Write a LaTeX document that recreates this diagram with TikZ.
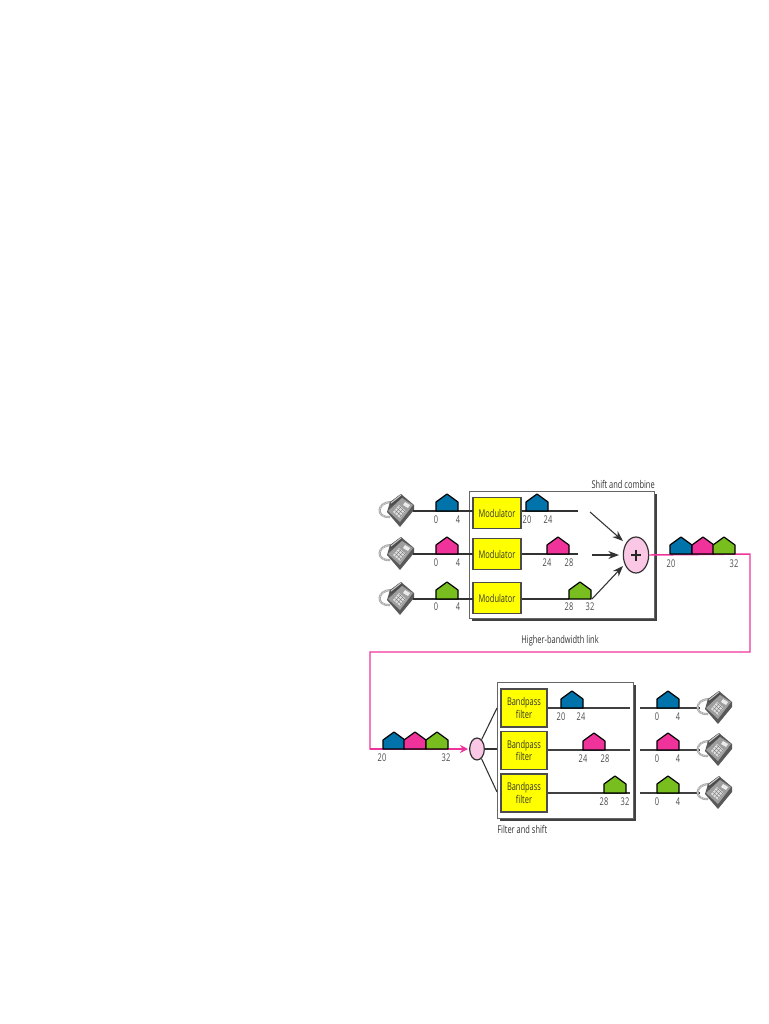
\documentclass[tikz,border=0pt]{standalone}
\usepackage{fontspec}
\setmainfont{Open Sans}[FakeStretch=0.70]
\usetikzlibrary{arrows.meta,shapes.geometric}
\definecolor{blue}{RGB}{0,115,170}
\definecolor{pink}{RGB}{240,50,155}
\definecolor{green}{RGB}{120,190,30}
\definecolor{lightpink}{RGB}{250,200,228}
\definecolor{wire}{RGB}{50,50,50}
\definecolor{yellowbox}{RGB}{255,255,0}
\tikzset{
  lbl/.style={font=\fontsize{8}{9}\selectfont, text=black!70, inner sep=0pt},
  title/.style={font=\fontsize{8}{9}\selectfont, text=black!80, inner sep=0pt},
  box/.style={draw=black!70, line width=0.8pt, fill=yellowbox, minimum width=36pt, inner sep=0pt, align=center, font=\fontsize{8}{9.5}\selectfont, text=black!80},
  frame/.style={draw=black!60, fill=white, line width=0.7pt},
  shadow/.style={fill=black!75, draw=none},
  wireline/.style={draw=wire, line width=0.8pt},
  arrow/.style={draw=wire, line width=0.8pt, -{Stealth[length=8pt,width=6pt]}},
  link/.style={draw=pink, line width=1.1pt},
  merge/.style={draw=black!80, line width=0.9pt, fill=lightpink, ellipse, inner sep=0pt}
}
% one pulse: #1 colour, #2 left x, #3 base y, #4 name
\newcommand{\pulse}[4]{
  \draw[black, line width=0.9pt, line join=round, fill=#1]
    (#2,#3) -- ++(0,-9) -- ++(11,-8) -- ++(11,8) -- ++(0,9) -- cycle;
  \coordinate (#4) at (#2,#3);
}
\tikzset{
  pics/phone/.style={code={
    %% cord
    \draw[black!35, line width=1.6pt] (-8,-9) .. controls (-22,-9) and (-24,7) .. (-9,6);
    \draw[white, line width=0.4pt, dash pattern=on 0.6pt off 0.8pt] (-8,-9) .. controls (-22,-9) and (-24,7) .. (-9,6);
    %% body
    \fill[black!65] (-12,1) -- (-9,-9) -- (2,-17) -- (15,-6) -- (15,-1) -- (1,16) -- cycle;
    \fill[black!38] (-11,0) -- (3,-13) -- (14,-6) -- (1,11) -- cycle;
    %% handset
    \draw[black!70, line width=2.5pt, line cap=round] (-8,-7) -- (2,-15);
    \draw[black!20, line width=0.8pt, line cap=round] (-8,-8) -- (2,-16);
    \fill[black!8] (6,-9) -- (11,-6) -- (9,-3) -- (4,-6) -- cycle;
    %% keypad
    \fill[black!12] (-6,1) -- (0,-6) -- (7,0) -- (1,7) -- cycle;
    \foreach \k in {0,1,2}{
      \draw[black!55, line width=0.3pt] (-4.3+\k*2,-0.9-\k*2) -- ++(6.5,5.7);
      \draw[black!55, line width=0.3pt] (-4+\k*2.3,2.5+\k*1.9) -- ++(6,-6.8);
    }
  }}
}
\begin{document}
\begin{tikzpicture}[x=0.75pt,y=-0.75pt]
  \useasboundingbox (0,0) rectangle (768,1024);
  %% Upper frame
  \fill[shadow] (471.5,494) rectangle (656.5,621);
  \draw[frame] (469,491) rectangle (654,618);
  \node[title, anchor=east] (shifttitle) at (655,484) {Shift and combine};
  %% Modulators
  \foreach \name/\y in {moda/513,modb/554,modc/598}{
    \node[box, minimum height=23.5pt] (\name) at (497,\y) {Modulator};
  }
  %% Phones and lines into the modulators
  \foreach \name/\y in {a/511,b/554,c/599}{
    \pic at (399,\y) {phone};
    \coordinate (in\name) at (413,\y);
    \draw[wireline] (in\name) -- (473,\y);
  }
  \pulse{blue}{436}{511}{pa}
  \pulse{pink}{436}{554}{pb}
  \pulse{green}{436}{599}{pc}
  \foreach \y/\ty in {511/520,554/563,599/607}{
    \node[lbl] (zero\y) at (436,\ty) {0};
    \node[lbl] (four\y) at (458,\ty) {4};
  }
  %% Shifted signals
  \coordinate (enda) at (578,511);
  \coordinate (endb) at (578,554);
  \coordinate (endc) at (569,599);
  \draw[wireline] (moda.east |- enda) -- (enda);
  \draw[wireline] (modb.east |- endb) -- (endb);
  \draw[wireline] (modc.east |- endc) -- (endc);
  \pulse{blue}{526}{511}{qa}
  \pulse{pink}{547}{554}{qb}
  \pulse{green}{569}{599}{qc}
  \node[lbl] (la1) at (527,520) {20};
  \node[lbl] (la2) at (548,520) {24};
  \node[lbl] (lb1) at (547,563) {24};
  \node[lbl] (lb2) at (569,563) {28};
  \node[lbl] (lc1) at (569,607) {28};
  \node[lbl] (lc2) at (590,607) {32};
  %% Combiner
  \node[merge, minimum width=19pt, minimum height=27pt] (plus) at (636,555) {};
  \draw[black!85, line width=0.9pt] (631,555) -- (641,555) (636,549.5) -- (636,560.5);
  \coordinate (ca) at (590,512);
  \coordinate (cb) at (592,555);
  \coordinate (cc) at (592,599);
  \draw[arrow] (ca) -- (623,541);
  \draw[arrow] (cb) -- (619,555);
  \draw[arrow] (cc) -- (623,566);
  %% Link
  \coordinate (demuxin) at (468,749);
  \draw[link] (plus.east) -- (750,554) -- (750,652) -- (370,652) -- (370,749) -- (460,749);
  \draw[draw=pink, line width=1.1pt, -{Stealth[length=6pt,width=6pt]}] (370,749) -- (demuxin);
  \node[title] (linktitle) at (560,641) {Higher-bandwidth link};
  \pulse{blue}{670}{554}{ra}
  \pulse{pink}{692}{554}{rb}
  \pulse{green}{713}{554}{rc}
  \node[lbl] (r1) at (671,564) {20};
  \node[lbl] (r2) at (734,564) {32};
  \pulse{blue}{383}{749}{sa}
  \pulse{pink}{404}{749}{sb}
  \pulse{green}{426}{749}{sc}
  \node[lbl] (s1) at (382,758) {20};
  \node[lbl] (s2) at (446,758) {32};
  %% Lower frame
  \fill[shadow] (499.5,685) rectangle (635.5,821);
  \draw[frame] (497,682) rectangle (633,818);
  \node[title, anchor=west] (filtertitle) at (497,829) {Filter and shift};
  \node[merge, minimum width=11pt, minimum height=16.5pt] (split) at (477,749) {};
  \coordinate (fa) at (497,708);
  \coordinate (fb) at (497,749);
  \coordinate (fc) at (497,792);
  \draw[wireline] (split) -- (fa);
  \draw[wireline] (split) -- (fb);
  \draw[wireline] (split) -- (fc);
  %% Filters
  \foreach \name/\y in {fila/708,filb/750.5,filc/793}{
    \node[box, minimum width=34.5pt, minimum height=28.5pt] (\name) at (524,\y) {Bandpass\\filter};
  }
  \foreach \name/\y in {a/708,b/750,c/793}{
    \coordinate (oa\name) at (630,\y);
    \draw[wireline, black!75] (fil\name.east |- oa\name) -- (oa\name);
    \coordinate (ob\name) at (640,\y);
    \draw[wireline, black!75] (ob\name) -- (700,\y);
    \pic at (717,\y) {phone};
  }
  \pulse{blue}{561}{708}{ta}
  \pulse{pink}{583}{750}{tb}
  \pulse{green}{604}{793}{tc}
  \pulse{blue}{657}{708}{ua}
  \pulse{pink}{657}{750}{ub}
  \pulse{green}{657}{793}{uc}
  \node[lbl] (t1) at (561,717) {20};
  \node[lbl] (t2) at (581,717) {24};
  \node[lbl] (t3) at (583,759) {24};
  \node[lbl] (t4) at (605,759) {28};
  \node[lbl] (t5) at (604,802) {28};
  \node[lbl] (t6) at (625,802) {32};
  \foreach \ty in {717,759,802}{
    \node[lbl] (uz\ty) at (657,\ty) {0};
    \node[lbl] (uf\ty) at (678,\ty) {4};
  }
\end{tikzpicture}
\end{document}
